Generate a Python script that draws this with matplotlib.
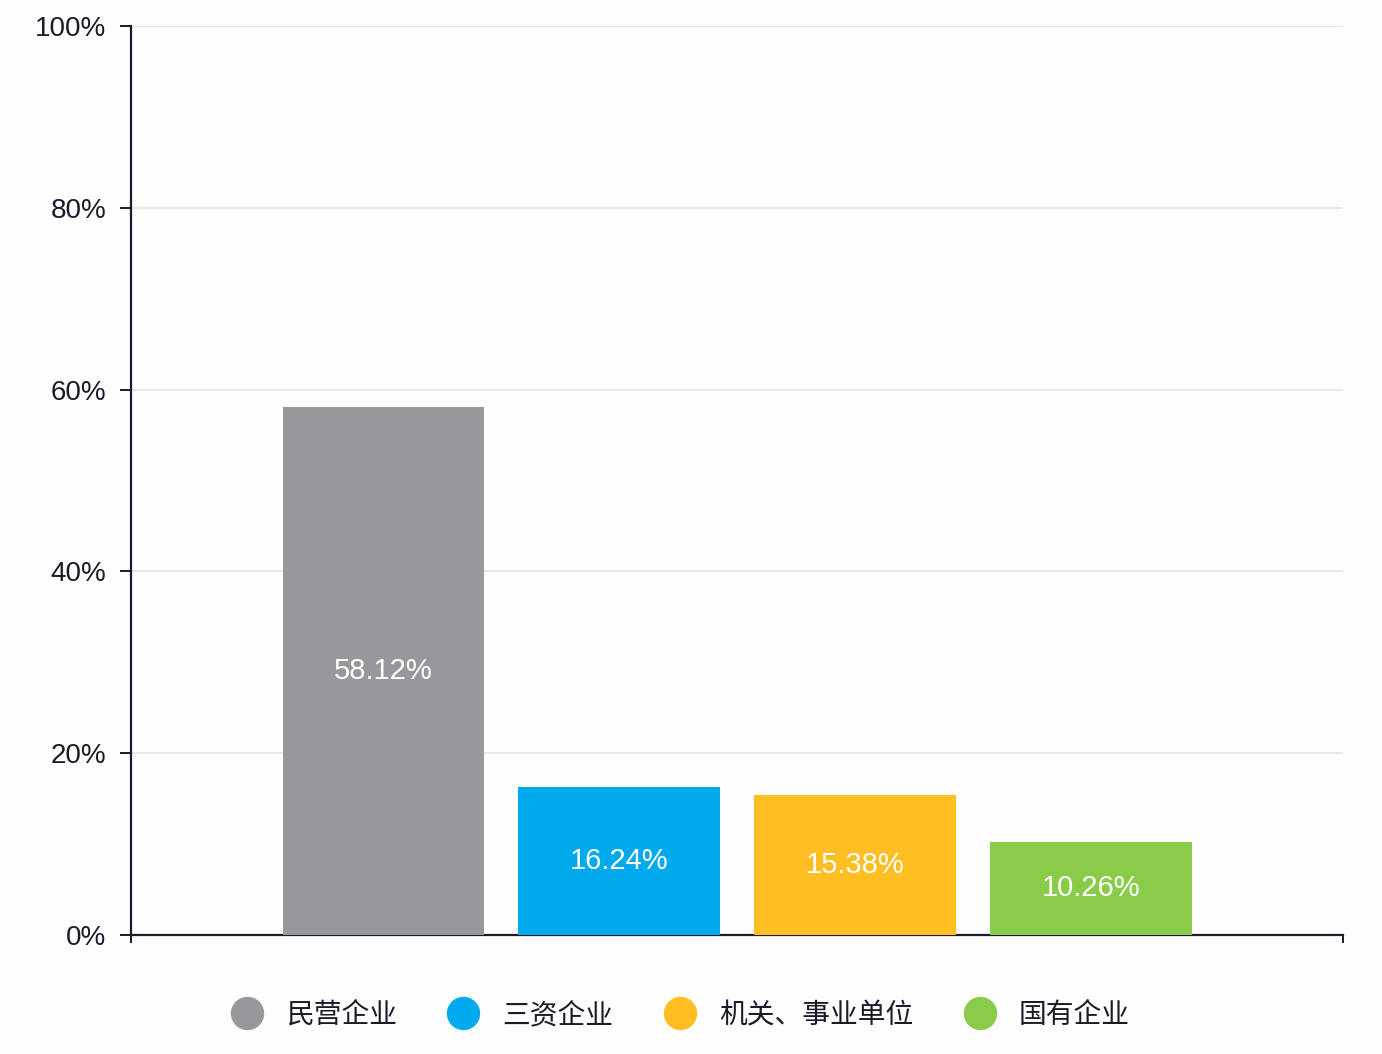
import matplotlib.pyplot as plt
from matplotlib.lines import Line2D
from matplotlib.ticker import FuncFormatter

plt.rcParams['font.family'] = ['Liberation Sans', 'DejaVu Sans']

categories = ['民营企业', '三资企业', '机关、事业单位', '国有企业']
shares = [58.12, 16.24, 15.38, 10.26]
colors = ['#98989c', '#00aaec', '#ffbf22', '#88cc4a']
yticks = [0, 20, 40, 60, 80, 100]

text_color = '#1c1a28'
cjk = ['Noto Sans CJK SC', 'DejaVu Sans']

fig = plt.figure(figsize=(13.82, 10.54), dpi=100, facecolor='#fdfdfe')
ax = fig.add_axes([0.0948, 0.1129, 0.877, 0.8624])
ax.set_facecolor('#fdfdfe')

x = list(range(len(categories)))
bars = ax.bar(x, shares, width=0.855, color=colors, zorder=3)

for rect, val in zip(bars, shares):
    ax.text(rect.get_x() + rect.get_width() / 2, val / 2, '{:.2f}%'.format(val),
            ha='center', va='center', color='white', fontsize=21, zorder=4)

ax.set_ylim(0, 100)
ax.set_xlim(-1.07, len(categories) - 1 + 1.07)
ax.set_yticks(yticks)
ax.yaxis.set_major_formatter(FuncFormatter(lambda v, _: '{:.0f}%'.format(v)))
ax.set_xticks(ax.get_xlim())
ax.set_xticklabels([])

# light horizontal guides behind the bars
ax.grid(True, 'major', 'y', color='#dfe3ea', lw=1.2, zorder=0)

for side in ['top', 'right']:
    ax.spines[side].set_visible(False)
for side in ['left', 'bottom']:
    ax.spines[side].set_color(text_color)
    ax.spines[side].set_linewidth(1.6)

ax.tick_params(axis='y', length=8, width=1.4, color=text_color, pad=10,
               labelsize=20, labelcolor=text_color)
ax.tick_params(axis='x', length=6, width=1.4, color=text_color)

handles = [Line2D([], [], ls='none', marker='o', markersize=23,
                  markerfacecolor=c, markeredgecolor=c) for c in colors]
fig.legend(handles, categories, loc='center', bbox_to_anchor=(0.492, 0.037),
           ncol=4, frameon=False, handlelength=1.2, handletextpad=0.8,
           columnspacing=1.8, prop={'family': cjk, 'size': 20},
           labelcolor=text_color)

plt.savefig('out.png', dpi=100, facecolor=fig.get_facecolor())
